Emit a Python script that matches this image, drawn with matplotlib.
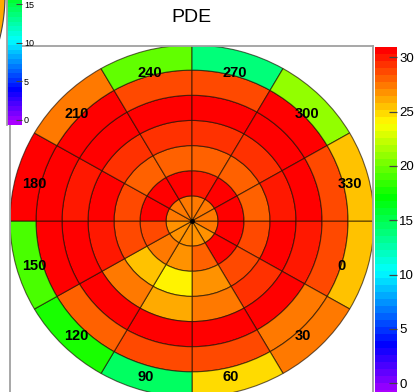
import numpy as np
import matplotlib
matplotlib.use("Agg")
import matplotlib.pyplot as plt
from matplotlib.patches import Wedge, Polygon
from matplotlib.colors import ListedColormap, Normalize, hsv_to_rgb

plt.rcParams['font.family'] = ['Liberation Sans', 'DejaVu Sans']

# ---------------- data ----------------
title = "PDE"
sector_labels = [0, 30, 60, 90, 120, 150, 180, 210, 240, 270, 300, 330]
# one list per ring (inner -> outer), values per sector in the order of sector_labels
ring0 = [27.3, 27.0, 26.8, 26.5, 26.5, 27.0, 27.3, 27.6, 27.6, 27.4, 27.3, 27.3]
ring1 = [30.6, 30.5, 27.8, 26.8, 27.5, 29.0, 30.6, 30.5, 30.6, 30.3, 30.5, 30.6]
ring2 = [28.8, 29.0, 26.9, 24.0, 25.4, 28.5, 28.8, 28.2, 28.2, 28.3, 28.0, 28.3]
ring3 = [30.6, 29.5, 27.5, 26.3, 27.5, 29.8, 30.6, 29.5, 29.5, 29.3, 29.5, 30.3]
ring4 = [29.8, 30.6, 30.7, 30.8, 30.7, 30.5, 29.7, 30.6, 30.7, 30.6, 30.5, 30.6]
ring5 = [28.8, 27.7, 28.6, 28.6, 27.8, 30.6, 30.5, 30.6, 28.6, 28.6, 30.5, 28.8]
ring6 = [25.5, 27.3, 24.6, 14.8, 17.5, 18.8, 30.7, 27.7, 19.6, 13.6, 20.8, 25.5]
rings = [ring0, ring1, ring2, ring3, ring4, ring5, ring6]

z_min, z_max = -1.26, 30.97
cbar_ticks = [0, 5, 10, 15, 20, 25, 30]

# neighbouring panel (partly visible at the top-left corner)
other_z_min, other_z_max = -0.7, 29.8
other_ticks = [0, 5, 10, 15]

# ---------------- style ----------------
W, H = 416, 392
fig = plt.figure(figsize=(W / 100, H / 100), dpi=100)


def rect(x0, y0, x1, y1):
    return [x0 / W, 1 - y1 / H, (x1 - x0) / W, (y1 - y0) / H]


hues = np.linspace(280, 0, 50) / 360.0
cmap = ListedColormap(hsv_to_rgb(np.stack([hues, np.ones(50), np.ones(50)], axis=1)))
norm = Normalize(vmin=z_min, vmax=z_max)

# ---------------- main polar heat map ----------------
ax = fig.add_axes(rect(9.5, 46, 373, 397))
ax.set_xlim(-7.02, 6.96)
ax.set_ylim(-7.0, 6.96)
ax.set_xticks([])
ax.set_yticks([])
for sp in ax.spines.values():
    sp.set_color('#a0a0a0')
    sp.set_linewidth(1.3)

for i, vals in enumerate(rings):
    for k, lab in enumerate(sector_labels):
        t1, t2 = -(lab + 30), -lab
        w = Wedge((0, 0), i + 1, t1, t2, width=None if i == 0 else 1,
                  facecolor=cmap(norm(vals[k])), edgecolor=(0.1, 0.05, 0.0, 0.65),
                  linewidth=0.8)
        ax.add_patch(w)

ax.plot([0], [0], marker='o', color='black', markersize=2.5)

for lab in sector_labels:
    th = np.deg2rad(lab + 15)
    x = 6.27 * np.cos(th) - 0.47
    y = -6.27 * np.sin(th) - 0.16
    ax.text(x, y, str(lab), ha='left', va='center', fontsize=10.5,
            fontweight='bold', color='black')

fig.text(191.5 / W, 1 - 17.5 / H, title, ha='center', va='center', fontsize=14)

# ---------------- colour bar ----------------
cax = fig.add_axes(rect(375, 46.7, 397.3, 397))
edges = np.linspace(z_min, z_max, 51)
cax.pcolormesh([0, 1], edges, ((edges[:-1] + edges[1:]) / 2).reshape(-1, 1),
               cmap=cmap, norm=norm, shading='flat')
cax.set_xlim(0, 1)
cax.set_ylim(z_min, z_max)
cax.set_xticks([])
cax.yaxis.set_ticks_position('right')
cax.set_yticks(cbar_ticks)
cax.tick_params(axis='y', direction='in', length=6, width=0.9, color='#444444',
                labelsize=9.5, pad=1.5)
for sp in cax.spines.values():
    sp.set_visible(False)

# ---------------- neighbouring panel remnants ----------------
ys = np.linspace(0, 40, 60)
xs = -177 + np.sqrt(182 ** 2 - (ys + 5) ** 2)
pts = [(x / W, 1 - y / H) for x, y in zip(xs, ys)] + [(-1 / W, 1 - 40 / H), (-1 / W, 1 + 1 / H)]
fig.patches.append(Polygon(pts, closed=True, transform=fig.transFigure,
                           facecolor='#ffaa00', edgecolor='none'))
fig.lines.append(plt.Line2D(xs / W, 1 - ys / H, transform=fig.transFigure,
                            color='#444444', linewidth=0.8))

onorm = Normalize(vmin=other_z_min, vmax=other_z_max)
cax2 = fig.add_axes(rect(7, 0, 22, 125))
oedges = np.linspace(other_z_min, other_z_max, 51)
cax2.pcolormesh([0, 1], oedges, ((oedges[:-1] + oedges[1:]) / 2).reshape(-1, 1),
                cmap=cmap, norm=onorm, shading='flat')
cax2.set_xlim(0, 1)
cax2.set_ylim(-0.71, 15.52)
cax2.set_xticks([])
cax2.yaxis.set_ticks_position('right')
cax2.set_yticks(other_ticks)
cax2.tick_params(axis='y', direction='in', length=4, width=0.8, color='#444444',
                 labelsize=6.5, pad=1.5)
for name, sp in cax2.spines.items():
    sp.set_visible(name == 'left')
    sp.set_color('#a0a0a0')
    sp.set_linewidth(1.3)

fig.savefig("out.png", dpi=100)
